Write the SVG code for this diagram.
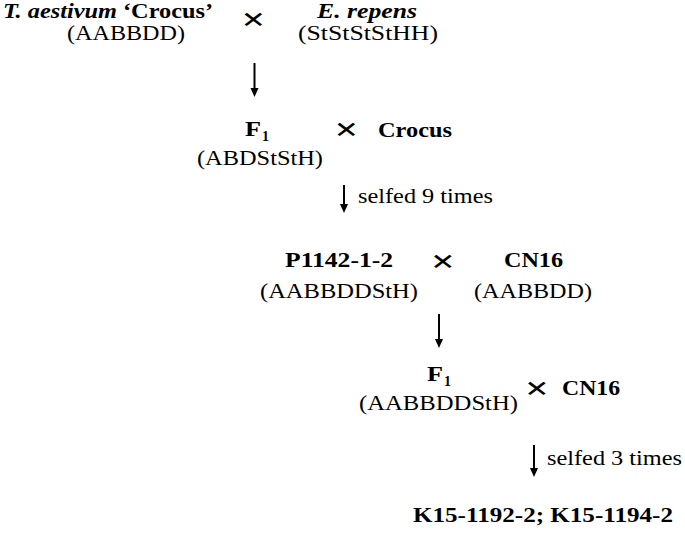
<svg xmlns="http://www.w3.org/2000/svg" width="685" height="537" viewBox="0 0 685 537">
<style>
.t{font-family:'Liberation Serif','Times New Roman',serif;font-size:20px;fill:#000}
.b{font-weight:bold}
.i{font-style:italic}
.x{font-size:31px;font-weight:bold}
.ar{stroke:#000;stroke-width:2;fill:none}
.hd{fill:#000}
</style>
<rect width="685" height="537" fill="#fff"/>
<g class="t">
<g id="crocus">
<text x="3" y="18" textLength="210" lengthAdjust="spacingAndGlyphs"><tspan class="b i">T. aestivum</tspan><tspan class="b"> ‘Crocus’</tspan></text>
<text x="67" y="40" textLength="118" lengthAdjust="spacingAndGlyphs">(AABBDD)</text>
</g>
<g id="cross1"><text class="x" transform="translate(253.5,30) scale(1.35,1)" text-anchor="middle">×</text></g>
<g id="repens">
<text class="b i" x="317" y="18" textLength="100" lengthAdjust="spacingAndGlyphs">E. repens</text>
<text x="298" y="40" textLength="140" lengthAdjust="spacingAndGlyphs">(StStStStHH)</text>
</g>
<g id="f1a">
<text class="b" x="245" y="136" textLength="16" lengthAdjust="spacingAndGlyphs">F</text>
<text class="b" x="262" y="141" textLength="7" lengthAdjust="spacingAndGlyphs" style="font-size:14px">1</text>
<text x="197" y="165" textLength="126" lengthAdjust="spacingAndGlyphs">(ABDStStH)</text>
</g>
<g id="cross2"><text class="x" transform="translate(346.5,140) scale(1.35,1)" text-anchor="middle">×</text></g>
<g id="crocus2">
<text class="b" x="378" y="137" textLength="74" lengthAdjust="spacingAndGlyphs">Crocus</text>
</g>
<g id="p1142">
<text class="b" x="285" y="267" textLength="108" lengthAdjust="spacingAndGlyphs">P1142-1-2</text>
<text x="260" y="298" textLength="158" lengthAdjust="spacingAndGlyphs">(AABBDDStH)</text>
</g>
<g id="cross3"><text class="x" transform="translate(443,272) scale(1.35,1)" text-anchor="middle">×</text></g>
<g id="cn16a">
<text class="b" x="504" y="267" textLength="59" lengthAdjust="spacingAndGlyphs">CN16</text>
<text x="474" y="298" textLength="118" lengthAdjust="spacingAndGlyphs">(AABBDD)</text>
</g>
<g id="f1b">
<text class="b" x="427" y="381" textLength="16" lengthAdjust="spacingAndGlyphs">F</text>
<text class="b" x="444" y="386" textLength="7" lengthAdjust="spacingAndGlyphs" style="font-size:14px">1</text>
<text x="359" y="410" textLength="159" lengthAdjust="spacingAndGlyphs">(AABBDDStH)</text>
</g>
<g id="cross4"><text class="x" transform="translate(537,399) scale(1.35,1)" text-anchor="middle">×</text></g>
<g id="cn16b">
<text class="b" x="562" y="395" textLength="58" lengthAdjust="spacingAndGlyphs">CN16</text>
</g>
<g id="result">
<text class="b" x="413" y="522" textLength="260" lengthAdjust="spacingAndGlyphs">K15-1192-2; K15-1194-2</text>
</g>
<g id="connectors">
<line class="ar" x1="254.5" y1="63" x2="254.5" y2="89"/>
<polygon class="hd" points="250.5,88 258.5,88 254.5,97"/>
<line class="ar" x1="344" y1="185" x2="344" y2="205"/>
<polygon class="hd" points="340,204 348,204 344,213"/>
<text x="358" y="203" textLength="135" lengthAdjust="spacingAndGlyphs">selfed 9 times</text>
<line class="ar" x1="439" y1="314" x2="439" y2="340"/>
<polygon class="hd" points="435,339 443,339 439,348"/>
<line class="ar" x1="534" y1="445" x2="534" y2="469"/>
<polygon class="hd" points="530,468 538,468 534,477"/>
<text x="547" y="465" textLength="135" lengthAdjust="spacingAndGlyphs">selfed 3 times</text>
</g>
</g>
</svg>
